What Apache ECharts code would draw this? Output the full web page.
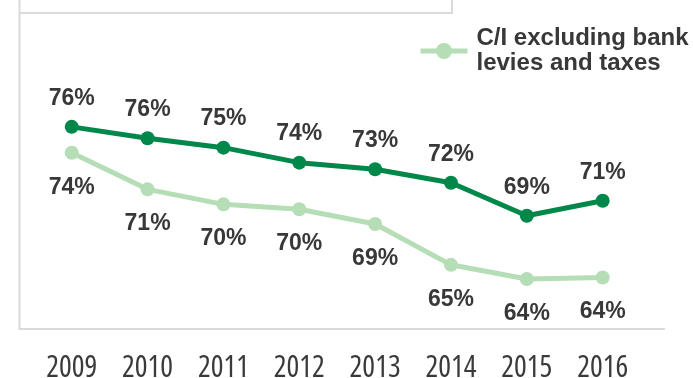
<!DOCTYPE html>
<html>
<head>
<meta charset="utf-8">
<script src="https://cdn.jsdelivr.net/npm/echarts@6/dist/echarts.min.js"></script>
<style>
  html, body { margin: 0; padding: 0; background: #ffffff; }
  #chart { width: 693px; height: 378px; }
</style>
</head>
<body>
<div id="chart"></div>
<script>
// Cost/income ratio by year, in percent
const years = ['2009', '2010', '2011', '2012', '2013', '2014', '2015', '2016'];
const ciReported = [76.4, 75.5, 74.75, 73.56, 73.03, 71.97, 69.35, 70.54];
const ciExclLevies = [74.35, 71.44, 70.25, 69.86, 68.69, 65.45, 64.33, 64.45];

const seriesNames = {
  reported: 'C/I',
  excl: 'C/I excluding bank levies and taxes'
};

const DARK = '#00874a';
const LIGHT = '#b5ddb6';
const LABEL_FONT = { fontFamily: 'Liberation Sans, Arial, sans-serif', fontWeight: 'bold', fontSize: 23, color: '#383838' };

const chart = echarts.init(document.getElementById('chart'), null, { renderer: 'canvas' });

const pct = p => Math.round(p.value) + '%';

chart.setOption({
  animation: false,
  backgroundColor: '#ffffff',
  grid: { left: 33.8, right: 52.4, top: 81.5, bottom: 44.5, containLabel: false, outerBoundsMode: 'none' },
  xAxis: {
    type: 'category',
    data: years,
    boundaryGap: true,
    axisLine: { show: false },
    axisTick: { show: false },
    axisLabel: {
      interval: 0,
      margin: 20,
      fontFamily: "'Open Sans', sans-serif",
      fontStyle: 'condensed',
      fontWeight: 'normal',
      fontSize: 30,
      color: '#3a3a3a'
    }
  },
  yAxis: { type: 'value', min: 60, max: 80, show: false },
  legend: {
    data: [seriesNames.excl],
    left: 413,
    top: 21,
    itemWidth: 47,
    itemHeight: 20,
    lineStyle: { width: 5 },
    formatter: () => 'C/I excluding bank\nlevies and taxes',
    textStyle: {
      fontFamily: 'Liberation Sans, Arial, sans-serif',
      fontWeight: 'bold',
      fontSize: 24,
      lineHeight: 25,
      padding: [0, 0, 0, 4],
      color: '#383838'
    }
  },
  graphic: [
    // light frame: left edge and base of the plot, and the panel above it
    { type: 'line', shape: { x1: 19.5, y1: 0, x2: 19.5, y2: 330 }, style: { stroke: '#dadada', lineWidth: 2 }, z: -1 },
    { type: 'line', shape: { x1: 19, y1: 329, x2: 665, y2: 329 }, style: { stroke: '#dadada', lineWidth: 2 }, z: -1 },
    { type: 'line', shape: { x1: 19, y1: 13, x2: 453, y2: 13 }, style: { stroke: '#dadada', lineWidth: 2 }, z: -1 },
    { type: 'line', shape: { x1: 452, y1: 0, x2: 452, y2: 14 }, style: { stroke: '#dadada', lineWidth: 2 }, z: -1 }
  ],
  series: [
    {
      name: seriesNames.excl,
      type: 'line',
      data: ciExclLevies,
      symbol: 'circle',
      symbolSize: 14,
      lineStyle: { color: LIGHT, width: 5 },
      itemStyle: { color: LIGHT },
      label: Object.assign({ show: true, position: 'bottom', distance: 16, formatter: pct }, LABEL_FONT),
      z: 2
    },
    {
      name: seriesNames.reported,
      type: 'line',
      data: ciReported,
      symbol: 'circle',
      symbolSize: 14,
      lineStyle: { color: DARK, width: 5 },
      itemStyle: { color: DARK },
      label: Object.assign({ show: true, position: 'top', distance: 10, formatter: pct }, LABEL_FONT),
      z: 3
    }
  ]
});
</script>
</body>
</html>
